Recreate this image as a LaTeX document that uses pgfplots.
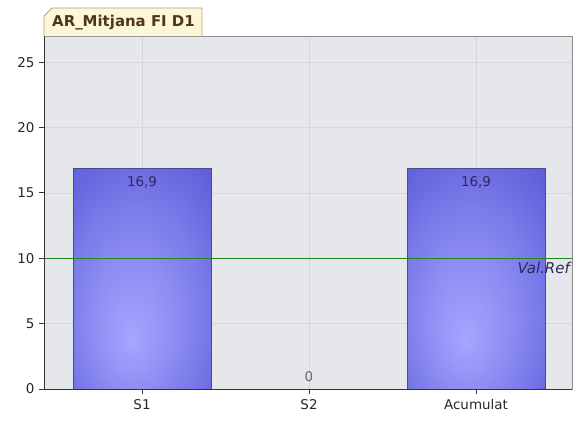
\documentclass[border=0pt]{standalone}
\usepackage{pgfplots}
\pgfplotsset{compat=1.18}
\usepackage{fontspec}
\setmainfont{DejaVu Sans}

\definecolor{plotbg}{HTML}{E5E7EA}
\definecolor{gridc}{HTML}{D4D6DA}
\definecolor{barA}{HTML}{A4A6FF}
\definecolor{barB}{HTML}{9494F6}
\definecolor{barC}{HTML}{7C7CEA}
\definecolor{barD}{HTML}{6060DA}
\definecolor{barE}{HTML}{4A4ACE}
\definecolor{baredge}{HTML}{4A4A88}
\definecolor{refgreen}{HTML}{1E8A1E}
\definecolor{tabfill}{HTML}{FDF7DA}
\definecolor{tabedge}{HTML}{B4A070}
\definecolor{tabtext}{HTML}{4E3814}
\definecolor{valtext}{HTML}{2A2A5E}

% radial shading; TikZ fits the central 50bp square onto each bar
\pgfdeclareradialshading{barshade}{\pgfpoint{-4bp}{-14bp}}{%
  color(0bp)=(barA); color(11bp)=(barB); color(24bp)=(barC);
  color(38bp)=(barD); color(50bp)=(barE); color(60bp)=(barE)}

\pgfplotsset{onebar/.style={ybar, bar width=0.826, bar shift=0pt,
    draw=baredge, line width=0.6pt, shading=barshade, shade}}

\begin{document}
\begin{tikzpicture}[x=1bp,y=1bp]
\useasboundingbox (0,0) rectangle (579,421);

\begin{axis}[
    at={(44bp,32bp)}, anchor=south west,
    scale only axis,
    width=528bp, height=353bp,
    xmin=-0.587, xmax=2.575,
    ymin=0, ymax=27,
    xtick={0,1,2},
    xticklabels={S1, S2, Acumulat},
    ytick={0,5,10,15,20,25},
    tick align=outside,
    xtick pos=bottom, ytick pos=left,
    major tick length=5bp,
    tick style={black!80, line width=0.8pt},
    grid=major,
    major grid style={gridc, line width=0.6pt},
    axis background/.style={fill=plotbg},
    axis line style={draw=black!45, line width=0.8pt},
    every tick label/.append style={font=\fontsize{13.5}{16}\selectfont, text=black!85},
    /pgf/number format/assume math mode=true,
    xticklabel style={yshift=-2bp},
    yticklabel style={xshift=-1bp},
    clip=false,
]

% bars, one plot each so each gets its own shading
\addplot[onebar] coordinates {(0,16.9)};
\addplot[onebar] coordinates {(1,0)};
\addplot[onebar] coordinates {(2,16.9)};

% reference value
\addplot[refgreen, line width=1pt] coordinates {(-0.587,10) (2.575,10)};

% dark left and bottom axis lines
\draw[black!80, line width=1pt] (rel axis cs:0,0) -- (rel axis cs:0,1);
\draw[black!80, line width=1pt] (rel axis cs:0,0) -- (rel axis cs:1,0);

% value labels
\node[anchor=north, text=valtext, font=\fontsize{13.5}{15}\selectfont]
    at (axis cs:0,16.9) [yshift=-5bp] {16,9};
\node[anchor=north, text=valtext, font=\fontsize{13.5}{15}\selectfont]
    at (axis cs:2,16.9) [yshift=-5bp] {16,9};
\node[anchor=south, text=black!60, font=\fontsize{13.5}{15}\selectfont]
    at (axis cs:1,0) [yshift=4bp] {0};
\node[anchor=north east, text=valtext, font=\itshape\fontsize{15}{17}\selectfont, inner sep=1bp]
    at (axis cs:2.575,10) [xshift=-1bp, yshift=-3bp] {Val.Ref};
\end{axis}

% title tab
\draw[fill=tabfill, draw=tabedge, line width=0.8pt]
    (44,385) -- (44,405) -- (52,413) -- (202,413) -- (202,385);
\node[anchor=west, text=tabtext, font=\bfseries\fontsize{15}{17}\selectfont, inner sep=0pt]
    at (52,398) {AR\_Mitjana FI D1};
\end{tikzpicture}
\end{document}
